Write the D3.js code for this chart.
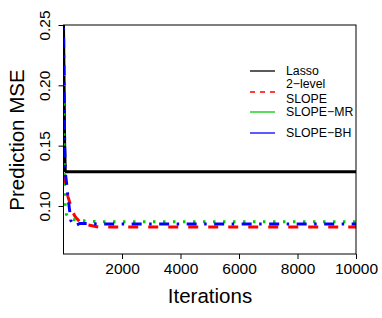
<!DOCTYPE html>
<html>
<head>
<meta charset="utf-8">
<script src="https://cdn.jsdelivr.net/npm/d3@7"></script>
<style>
  body { margin: 0; background: #fff; }
  text { font-family: "Liberation Sans", Arial, sans-serif; }
</style>
</head>
<body>
<svg id="chart" width="382" height="318"></svg>
<script>
var iters = [0, 20, 40, 60, 100, 150, 200, 250, 300, 400, 550, 800, 1200, 2000, 3000, 4000, 5000, 6000, 7000, 8000, 9000, 10000]

var lasso   = [0.250, 0.200, 0.150, 0.1290, 0.1283, 0.1283, 0.1283, 0.1283, 0.1283, 0.1283, 0.1283, 0.1283, 0.1283, 0.1283, 0.1283, 0.1283, 0.1283, 0.1283, 0.1283, 0.1283, 0.1283, 0.1283]
var twoLvl  = [0.126, 0.123, 0.120, 0.118, 0.113, 0.108, 0.104, 0.100, 0.096, 0.091, 0.087, 0.0845, 0.0825, 0.0825, 0.0825, 0.0825, 0.0825, 0.0825, 0.0825, 0.0825, 0.0825, 0.0825]
var slopeMR = [0.210, 0.150, 0.112, 0.099, 0.093, 0.091, 0.090, 0.0895, 0.089, 0.0885, 0.088, 0.0875, 0.087, 0.0869, 0.0869, 0.0869, 0.0869, 0.0869, 0.0869, 0.0869, 0.0869, 0.0869]
var slopeBH = [0.248, 0.200, 0.150, 0.128, 0.120, 0.108, 0.098, 0.088, 0.086, 0.0835, 0.0855, 0.0855, 0.085, 0.085, 0.085, 0.085, 0.085, 0.085, 0.085, 0.085, 0.085, 0.085]

var xTicks = [2000, 4000, 6000, 8000, 10000]
var yTicks = [0.10, 0.15, 0.20, 0.25]

var series = [
    { name: 'Lasso', values: lasso, color: '#000000', dash: null, legend: ['Lasso'] },
    { name: '2-level SLOPE', values: twoLvl, color: '#ff0000', dash: '10,10', legend: ['2\u2212level', 'SLOPE'] },
    { name: 'SLOPE-MR', values: slopeMR, color: '#00cd00', dash: '2.5,7.5', legend: ['SLOPE\u2212MR'] },
    { name: 'SLOPE-BH', values: slopeBH, color: '#0000ff', dash: '2.5,7.5,10,7.5', legend: ['SLOPE\u2212BH'] }
]

var svg = d3.select('#chart')
var pLeft = 63.5, pRight = 356, pTop = 25, pBottom = 254

var x = d3.scaleLinear().domain([0, 10000]).range([pLeft, pRight])
var y = d3.scaleLinear().domain([0.0602, 0.25]).range([pBottom, pTop])

svg.append('clipPath').attr('id', 'plotclip')
    .append('rect').attr('x', pLeft).attr('y', pTop).attr('width', pRight - pLeft).attr('height', pBottom - pTop)

var line = d3.line()
    .x(function (d, i) { return x(iters[i]) })
    .y(function (d) { return y(d) })

var g = svg.append('g').attr('clip-path', 'url(#plotclip)')
series.forEach(function (s) {
    g.append('path')
        .attr('d', line(s.values))
        .attr('fill', 'none')
        .attr('stroke', s.color)
        .attr('stroke-width', 3)
        .attr('stroke-dasharray', s.dash)
        .attr('stroke-linejoin', 'round')
})

// axes
var xAxis = svg.append('g').attr('transform', 'translate(0,' + pBottom + ')')
    .call(d3.axisBottom(x).tickValues(xTicks).tickSize(5).tickPadding(4).tickFormat(d3.format('d')))
xAxis.select('.domain').remove()
xAxis.selectAll('text').attr('font-size', '15.5px').attr('fill', '#000').attr('font-family', null)

var yAxis = svg.append('g').attr('transform', 'translate(' + pLeft + ',0)')
    .call(d3.axisLeft(y).tickValues(yTicks).tickSize(5).tickFormat(d3.format('.2f')))
yAxis.select('.domain').remove()
yAxis.selectAll('.tick text')
    .attr('font-size', '15.5px').attr('fill', '#000').attr('font-family', null)
    .attr('x', 0).attr('y', 0).attr('dy', null)
    .attr('text-anchor', 'middle')
    .attr('transform', 'translate(-14,0) rotate(-90)')

svg.append('rect')
    .attr('x', pLeft).attr('y', pTop).attr('width', pRight - pLeft).attr('height', pBottom - pTop)
    .attr('fill', 'none').attr('stroke', '#000').attr('stroke-width', 1)

svg.append('text').text('Iterations')
    .attr('x', 210).attr('y', 303).attr('text-anchor', 'middle').attr('font-size', '20.5px')

svg.append('text').text('Prediction MSE')
    .attr('transform', 'translate(24,140) rotate(-90)').attr('text-anchor', 'middle').attr('font-size', '20.5px')

// legend
var legY = [71, 92, 112, 133]
var legText = [[75], [87.5, 103], [116], [137]]
series.forEach(function (s, i) {
    svg.append('line')
        .attr('x1', 250).attr('x2', 275).attr('y1', legY[i]).attr('y2', legY[i])
        .attr('stroke', s.color).attr('stroke-width', 1.3)
        .attr('stroke-dasharray', i === 1 ? '5,5' : null)
    s.legend.forEach(function (t, j) {
        svg.append('text').text(t)
            .attr('x', 286).attr('y', legText[i][j]).attr('font-size', '12.3px')
    })
})
</script>
</body>
</html>
